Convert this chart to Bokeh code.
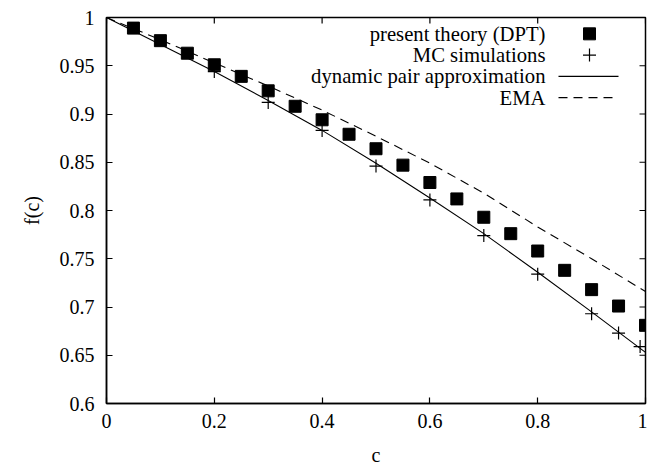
from bokeh.plotting import figure
from bokeh.models import Range1d, FixedTicker, Label
from bokeh.embed import file_html
from bokeh.resources import INLINE

# ---- data ----
dpt_c = [0.05, 0.10, 0.15, 0.20, 0.25, 0.30, 0.35, 0.40, 0.45, 0.50,
         0.55, 0.60, 0.65, 0.70, 0.75, 0.80, 0.85, 0.90, 0.95, 1.00]
dpt_f = [0.989, 0.976, 0.963, 0.951, 0.939, 0.924, 0.908, 0.894, 0.879, 0.864,
         0.847, 0.829, 0.812, 0.793, 0.776, 0.758, 0.738, 0.718, 0.701, 0.681]

mc_c = [0.20, 0.30, 0.40, 0.50, 0.60, 0.70, 0.80, 0.90, 0.95, 0.99]
mc_f = [0.944, 0.912, 0.883, 0.846, 0.811, 0.774, 0.734, 0.693, 0.673, 0.659]

pair_c = [0.0, 0.1, 0.2, 0.3, 0.4, 0.5, 0.6, 0.7, 0.8, 0.9, 1.0]
pair_f = [1.000, 0.972, 0.944, 0.914, 0.883, 0.849, 0.813, 0.776, 0.736, 0.695, 0.653]

ema_c = [0.0, 0.1, 0.2, 0.3, 0.4, 0.5, 0.6, 0.7, 0.8, 0.9, 1.0]
ema_f = [1.000, 0.977, 0.953, 0.929, 0.904, 0.877, 0.849, 0.818, 0.783, 0.750, 0.716]

x_ticks = [0, 0.2, 0.4, 0.6, 0.8, 1.0]
x_tick_labels = ["0", "0.2", "0.4", "0.6", "0.8", "1"]
y_ticks = [0.6, 0.65, 0.7, 0.75, 0.8, 0.85, 0.9, 0.95, 1.0]
y_tick_labels = ["0.6", "0.65", "0.7", "0.75", "0.8", "0.85", "0.9", "0.95", "1"]

legend_labels = ["present theory (DPT)", "MC simulations",
                 "dynamic pair approximation", "EMA"]

FONT = "Liberation Serif"
FS = "20px"
LFS = "20.7px"

W, H = 647, 468
L, R, T, B = 106, 2, 17, 61
X0, X1, Y0, Y1 = 0.0, 1.0, 0.6, 1.0
FW = W - L - R
FH = H - T - B
TICK = 6  # px, inward

p = figure(width=W, height=H, x_range=Range1d(X0, X1), y_range=Range1d(Y0, Y1),
           output_backend="svg", toolbar_location=None,
           min_border_left=L, min_border_right=R, min_border_top=T, min_border_bottom=B,
           x_axis_label="c", y_axis_label="f(c)")
p.grid.visible = False
p.outline_line_color = "black"
p.outline_line_width = 1.5
p.background_fill_color = "white"
p.border_fill_color = "white"

def style_axis(ax, ticks, labels):
    ax.ticker = FixedTicker(ticks=ticks)
    ax.major_label_overrides = {t: s for t, s in zip(ticks, labels)}
    ax.major_tick_in = TICK
    ax.major_tick_out = 0
    ax.minor_tick_in = 0
    ax.minor_tick_out = 0
    ax.axis_line_color = "black"
    ax.axis_line_width = 1.5
    ax.major_tick_line_color = "black"
    ax.major_tick_line_width = 1.2
    ax.major_label_text_font = FONT
    ax.major_label_text_font_size = FS
    ax.major_label_text_color = "black"
    ax.axis_label_text_font = FONT
    ax.axis_label_text_font_size = FS
    ax.axis_label_text_font_style = "normal"
    ax.axis_label_text_color = "black"

style_axis(p.xaxis[0], x_ticks, x_tick_labels)
p.xaxis[0].major_label_standoff = 10
p.xaxis[0].axis_label_standoff = 13
style_axis(p.yaxis[0], y_ticks, y_tick_labels)
p.yaxis[0].major_label_standoff = 12
p.yaxis[0].axis_label_standoff = 14

# mirrored inward ticks on the top and right edges (derived from the tick lists)
tx = TICK / FW * (X1 - X0)
ty = TICK / FH * (Y1 - Y0)
p.segment(x0=x_ticks, x1=x_ticks, y0=[Y1] * len(x_ticks), y1=[Y1 - ty] * len(x_ticks),
          line_color="black", line_width=1.2)
p.segment(x0=[X1] * len(y_ticks), x1=[X1 - tx] * len(y_ticks), y0=y_ticks, y1=y_ticks,
          line_color="black", line_width=1.2)

# ---- curves ----
p.line(pair_c, pair_f, line_color="black", line_width=1.1)
p.line(ema_c, ema_f, line_color="black", line_width=1.1, line_dash="9 6")
p.scatter(mc_c, mc_f, marker="cross", size=13, line_color="black", line_width=1.2)
p.scatter(dpt_c, dpt_f, marker="square", size=12, fill_color="black", line_color="black")

# ---- legend (text right-aligned, sample on the right) ----
def dx(px):
    return X0 + (px - L) / FW * (X1 - X0)
def dy(py):
    return Y1 - (py - T) / FH * (Y1 - Y0)

rows_y = [33.5, 55.0, 76.5, 98.0]
text_right = 545
for lab, ry in zip(legend_labels, rows_y):
    p.add_layout(Label(x=dx(text_right), y=dy(ry),
                       text=lab, text_align="right", text_baseline="middle",
                       text_font=FONT, text_font_size=LFS, text_color="black"))

sym_x = dx(589)
p.scatter([sym_x], [dy(rows_y[0])], marker="square", size=12, fill_color="black", line_color="black")
p.scatter([sym_x], [dy(rows_y[1])], marker="cross", size=13, line_color="black", line_width=1.2)
p.line([dx(558), dx(618)], [dy(rows_y[2])] * 2, line_color="black", line_width=1.1)
p.line([dx(558), dx(618)], [dy(rows_y[3])] * 2, line_color="black", line_width=1.1, line_dash="9 6")

open("out.html", "w").write(file_html(p, INLINE))
